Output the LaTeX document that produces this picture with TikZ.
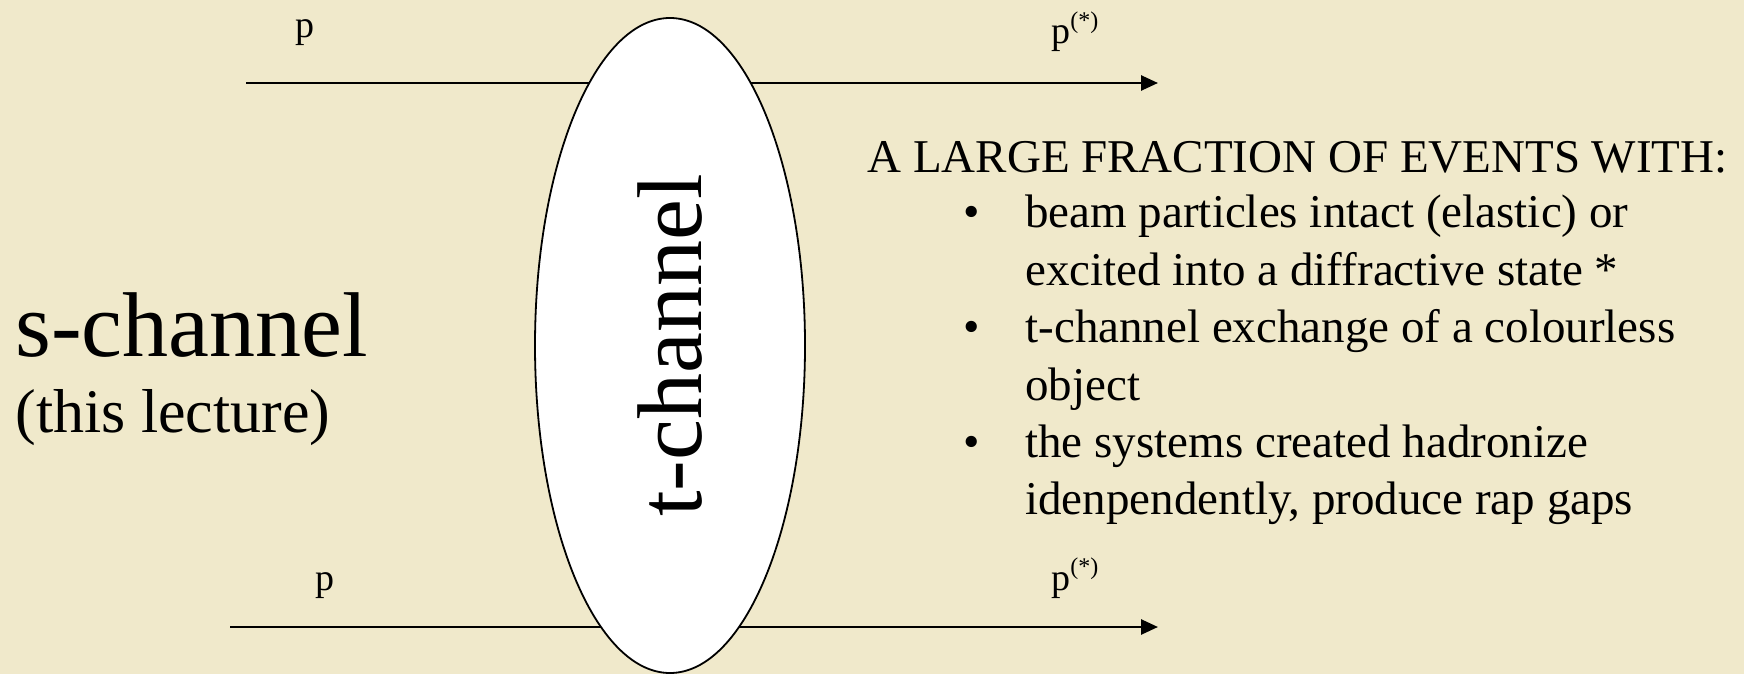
\documentclass[tikz,border=0pt]{standalone}
\usepackage{fontspec}
\setmainfont{Liberation Serif}
\usetikzlibrary{shapes.geometric,arrows.meta}
\definecolor{parch}{RGB}{240,233,203}
\begin{document}
\begin{tikzpicture}[x=0.5pt,y=-0.5pt,
  lbl/.style={inner sep=0pt, anchor=base west},
  bul/.style={inner sep=0pt, anchor=base, font=\fontsize{23.5}{28}\selectfont},
  body/.style={lbl, font=\fontsize{23.5}{28}\selectfont},
  plbl/.style={lbl, font=\fontsize{19}{22}\selectfont},
  beam/.style={line width=1.3pt, -{Triangle[length=8.5pt,width=7.5pt]}}]
\fill[parch] (0,0) rectangle (1744,674);
\useasboundingbox (0,0) rectangle (1744,674);
% incoming / outgoing protons
\coordinate (pinA) at (246,83);
\coordinate (poutA) at (1158,83);
\coordinate (pinB) at (230,627);
\coordinate (poutB) at (1158,627);
\draw[beam] (pinA) -- (poutA);
\draw[beam] (pinB) -- (poutB);
% t-channel blob
\node[draw, fill=white, ellipse, line width=0.9pt, rotate=90,
      minimum width=327.5pt, minimum height=135pt, inner sep=0pt,
      font=\fontsize{46}{50}\selectfont] (tch) at (670,345.5) {t-channel};
% particle labels
\node[plbl] (pA) at (295,38) {p};
\node[plbl] (pAs) at (1051,44) {p\raisebox{7.7pt}{\fontsize{12}{12}\selectfont(*)}};
\node[plbl] (pB) at (315,590) {p};
\node[plbl] (pBs) at (1051,590) {p\raisebox{7.7pt}{\fontsize{12}{12}\selectfont(*)}};
% s-channel
\node[lbl, font=\fontsize{46}{50}\selectfont] (sch) at (15,356) {s-channel};
\node[lbl, font=\fontsize{31}{34}\selectfont] (lec) at (15,432) {(this lecture)};
% text block
\node[body] (hdr) at (867,172) {A LARGE FRACTION OF EVENTS WITH:};
\node[bul] (b1) at (972,227) {•};
\node[body] (l1) at (1025,227) {beam particles intact (elastic) or};
\node[body] (l2) at (1025,285) {excited into a diffractive state *};
\node[bul] (b2) at (972,342) {•};
\node[body] (l3) at (1025,342) {t-channel exchange of a colourless};
\node[body] (l4) at (1025,400) {object};
\node[bul] (b3) at (972,457) {•};
\node[body] (l5) at (1025,457) {the systems created hadronize};
\node[body] (l6) at (1025,514) {idenpendently, produce rap gaps};
\end{tikzpicture}
\end{document}
